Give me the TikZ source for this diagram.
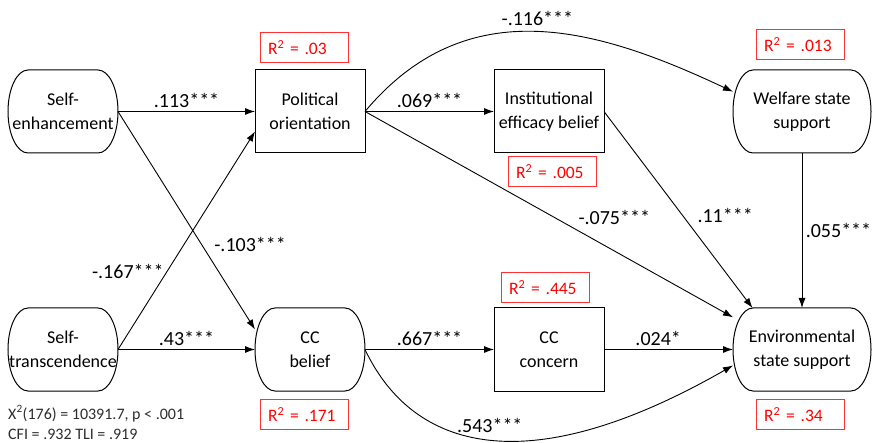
\documentclass[tikz,border=0pt]{standalone}
\usepackage{fontspec}
\setmainfont{Carlito}
\usepackage{xcolor}
\usetikzlibrary{
arrows.meta,
positioning
}
\definecolor{rsqred}{RGB}{255,0,0}
\definecolor{fitgray}{RGB}{45,45,45}
\tikzset{
  rsq/.style={
    draw=rsqred!80,
    line width=0.8pt,
    text=rsqred,
    minimum width=88pt,
    minimum height=30pt,
    text width=72pt,
    inner xsep=8pt,
    align=left,
    font=\fontsize{17.5}{19}\selectfont
  },
  % Edge label style for path coefficients:
  coef/.style={font=\fontsize{20}{22}\selectfont}
}
% outline with elliptic ends, drawn round a latent node
\newcommand{\stadium}[1]{%
  \draw[line width=1pt] ([xshift=20pt]#1.north west) -- ([xshift=-20pt]#1.north east)
    arc[start angle=90,end angle=-90,x radius=20pt,y radius=41.5pt]
    -- ([xshift=20pt]#1.south west)
    arc[start angle=270,end angle=90,x radius=20pt,y radius=41.5pt] -- cycle;}

\begin{document}
\begin{tikzpicture}[
    x=1pt, y=1pt,
    var/.style={
      draw,
      line width=1pt,
      align=center,
      inner sep=1pt,
      outer sep=0pt,
      minimum width=110pt,
      minimum height=83pt,
      font=\fontsize{18}{24}\selectfont
    },
    latent/.style={
      var,
      draw=none
    },
    widelatent/.style={
      latent,
      minimum width=138pt
    },
    path/.style={
      line width=0.9pt,
      -{Latex[length=10pt,width=7pt]}
    }
  ]
  \useasboundingbox (0,0) rectangle (875,442);
  \node[latent] (se) at(63,330.5) {Self-\\enhancement};
  \node[var,xshift=247pt] (po) at(se) {Political\\orientation};
  \node[var,xshift=239pt] (ie) at(po) {Institutional\\efficacy belief};
  \node[widelatent,xshift=253pt] (ws) at(ie) {Welfare state\\support};
  \node[latent,yshift=-238pt] (st) at(se) {Self-\\transcendence};
  \node[latent,yshift=-238pt] (cb) at(po) {CC\\belief};
  \node[var,yshift=-238pt] (cc) at(ie) {CC\\concern};
  \node[widelatent,yshift=-238pt] (es) at(ws) {Environmental\\state support};
  \stadium{se} \stadium{ws} \stadium{st} \stadium{cb} \stadium{es}
  \node[rsq,above=7pt of po,xshift=-6pt] (r2po) {R\textsuperscript{2} = .03};
  \node[rsq,below=3pt of ie,xshift=3pt] (r2ie) {R\textsuperscript{2} = .005};
  \node[rsq,above=10pt of ws,xshift=-2pt] (r2ws) {R\textsuperscript{2} = .013};
  \node[rsq,below=8pt of cb,xshift=-6pt] (r2cb) {R\textsuperscript{2} = .171};
  \node[rsq,above=5pt of cc,xshift=-4pt] (r2cc) {R\textsuperscript{2} = .445};
  \node[rsq,below=8pt of es,xshift=-2pt] (r2es) {R\textsuperscript{2} = .34};
  \draw[path] (se.east) -- node[coef,above] {.113***} (po.west);
  \draw[path] (se.east) -- node[coef,pos=0.61,right=9pt] {-.103***} (cb.160);
  \draw[path] (st.east) -- node[coef,pos=0.36,left] {-.167***} (po.200);
  \draw[path] (st.east) -- node[coef,above] {.43***} (cb.west);
  \draw[path] (po.east) -- node[coef,above] {.069***} (ie.west);
  \draw[path] (po.east) .. controls +(103,123) and +(-134,63) .. node[coef,above=2pt] {-.116***} (ws.164);
  \draw[path] (po.east) -- node[coef,pos=0.57,above right] {-.075***} (es.155);
  \draw[path] (ie.east) -- node[coef,pos=0.53,right=11pt] {.11***} (es.140);
  \draw[path] (ws.south) -- node[coef,right] {.055***} (es.north);
  \draw[path] (cb.east) -- node[coef,above] {.667***} (cc.west);
  \draw[path] (cc.east) -- node[coef,pos=0.42,above] {.024*} (es.west);
  \draw[path] (cb.east) .. controls +(48,-101) and +(-206,-118) .. node[coef,above=3pt] {.543***} (es.193);
  \node[anchor=base west,align=left,inner sep=0pt,text=fitgray,font=\fontsize{16}{20}\selectfont] (fit) at(8,3) {X\textsuperscript{2}(176) = 10391.7, p < .001\\CFI = .932 TLI = .919};
\end{tikzpicture}
\end{document}
